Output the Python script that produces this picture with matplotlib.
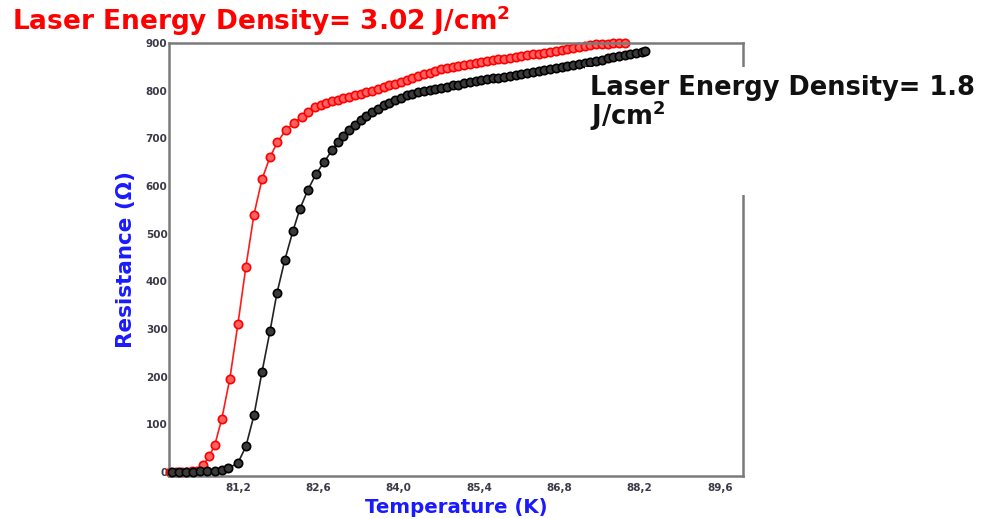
import matplotlib
matplotlib.use("Agg")
import matplotlib.pyplot as plt
from matplotlib.patches import Rectangle
from matplotlib.ticker import FixedLocator, FuncFormatter

plt.rcParams["mathtext.fontset"] = "dejavusans"

# Resistance vs temperature for two laser energy densities
temp_302 = [80.02, 80.12, 80.22, 80.32, 80.40, 80.49, 80.59, 80.70, 80.80, 80.92,
            81.06, 81.20, 81.34, 81.48, 81.62, 81.76, 81.89, 82.03, 82.17, 82.31,
            82.42, 82.54, 82.64, 82.74, 82.84, 82.94, 83.04, 83.14, 83.24, 83.34,
            83.44, 83.54, 83.64, 83.74, 83.84, 83.94, 84.04, 84.14, 84.24, 84.34,
            84.44, 84.54, 84.64, 84.74, 84.84, 84.94, 85.04, 85.14, 85.24, 85.34,
            85.44, 85.54, 85.64, 85.74, 85.84, 85.94, 86.04, 86.14, 86.24, 86.34,
            86.44, 86.54, 86.64, 86.74, 86.84, 86.94, 87.04, 87.14, 87.24, 87.34,
            87.44, 87.54, 87.64, 87.74, 87.84, 87.94]
res_302 = [1, 1, 1, 1, 2, 3, 14, 33, 58, 112,
           196, 310, 431, 540, 614, 661, 692, 717, 732, 745,
           756, 765, 770, 774, 778, 781, 784, 787, 790, 794,
           797, 800, 804, 807, 811, 815, 818, 822, 826, 830,
           834, 838, 842, 845, 847, 850, 852, 854, 856, 858,
           860, 862, 864, 866, 867, 869, 870, 872, 874, 876,
           877, 879, 881, 883, 885, 887, 889, 891, 893, 895,
           897, 898, 899, 900, 900, 900]

temp_18 = [80.05, 80.17, 80.30, 80.42, 80.54, 80.66, 80.80, 80.92, 81.03, 81.20,
           81.34, 81.48, 81.62, 81.76, 81.88, 82.02, 82.16, 82.28, 82.42, 82.56,
           82.70, 82.84, 82.94, 83.04, 83.14, 83.24, 83.34, 83.44, 83.54, 83.64,
           83.74, 83.84, 83.94, 84.04, 84.14, 84.24, 84.34, 84.44, 84.54, 84.64,
           84.74, 84.84, 84.94, 85.04, 85.14, 85.24, 85.34, 85.44, 85.54, 85.64,
           85.74, 85.84, 85.94, 86.04, 86.14, 86.24, 86.34, 86.44, 86.54, 86.64,
           86.74, 86.84, 86.94, 87.04, 87.14, 87.24, 87.34, 87.44, 87.54, 87.64,
           87.74, 87.84, 87.94, 88.04, 88.14, 88.24, 88.30]
res_18 = [1, 1, 1, 1, 2, 2, 3, 4, 8, 19,
          54, 119, 210, 296, 375, 446, 506, 552, 592, 625,
          650, 675, 692, 706, 718, 729, 738, 747, 755, 762,
          769, 775, 780, 785, 790, 794, 798, 799, 801, 803,
          805, 808, 811, 813, 816, 818, 820, 822, 824, 826,
          827, 829, 831, 833, 835, 837, 839, 841, 843, 845,
          847, 849, 851, 853, 855, 858, 860, 862, 865, 868,
          870, 872, 875, 877, 880, 882, 884]

x_ticks = [81.2, 82.6, 84.0, 85.4, 86.8, 88.2, 89.6]
y_ticks = [0, 100, 200, 300, 400, 500, 600, 700, 800, 900]

title_302 = r"Laser Energy Density= 3.02 J/cm$\mathbf{^2}$"
title_18_line1 = "Laser Energy Density= 1.8"
title_18_line2 = r"J/cm$\mathbf{^2}$"

fig = plt.figure(figsize=(9.9, 5.19), dpi=100)
ax = fig.add_axes([0.1707, 0.0829, 0.5798, 0.8342])

ax.plot(temp_18, res_18, color="#222222", lw=1.2, marker="o", ms=6,
        mfc="#3a3a3a", mec="black", mew=1.2, clip_on=False, zorder=3)
ax.plot(temp_302, res_302, color="#ff1a1a", lw=1.2, marker="o", ms=6,
        mfc="#ff6060", mec="#ff0000", mew=1.2, clip_on=False, zorder=2)

ax.set_xlim(80.0, 90.0)
ax.set_ylim(-8, 900)
ax.xaxis.set_major_locator(FixedLocator(x_ticks))
ax.yaxis.set_major_locator(FixedLocator(y_ticks))
ax.xaxis.set_major_formatter(FuncFormatter(lambda v, p: f"{v:.1f}".replace(".", ",")))
ax.yaxis.set_major_formatter(FuncFormatter(lambda v, p: f"{v:.0f}"))
ax.tick_params(length=0, labelsize=7.5, labelcolor="#3a3a48")
ax.tick_params(axis="x", pad=5)
ax.tick_params(axis="y", pad=1)
for lbl in ax.get_xticklabels() + ax.get_yticklabels():
    lbl.set_fontweight("bold")

for side in ("left", "right", "top", "bottom"):
    ax.spines[side].set_color("#7a7a7a")
    ax.spines[side].set_linewidth(1.8)

ax.set_xlabel("Temperature (K)", fontweight="bold",
              fontsize=14.2, color="#1a1aff", labelpad=4)
ax.set_ylabel("Resistance (\u03a9)", fontweight="bold",
              fontsize=15.5, color="#1a1aff", labelpad=7)

fig.text(12 / 990, 1 - 30 / 519, title_302, color="#ff0000", fontsize=19,
         fontweight="bold", ha="left", va="baseline")

# white panel holding the second caption, covering the right frame
fig.patches.append(Rectangle((585 / 990, 1 - 195 / 519), 405 / 990, 128 / 519,
                             transform=fig.transFigure, facecolor="white",
                             edgecolor="none", zorder=5))
fig.text(590 / 990, 1 - 95 / 519, title_18_line1, color="#111111", fontsize=18.5,
         fontweight="bold", ha="left", va="baseline", zorder=6)
fig.text(590 / 990, 1 - 125 / 519, title_18_line2, color="#111111", fontsize=18.5,
         fontweight="bold", ha="left", va="baseline", zorder=6)

fig.savefig("out.png", dpi=100)
